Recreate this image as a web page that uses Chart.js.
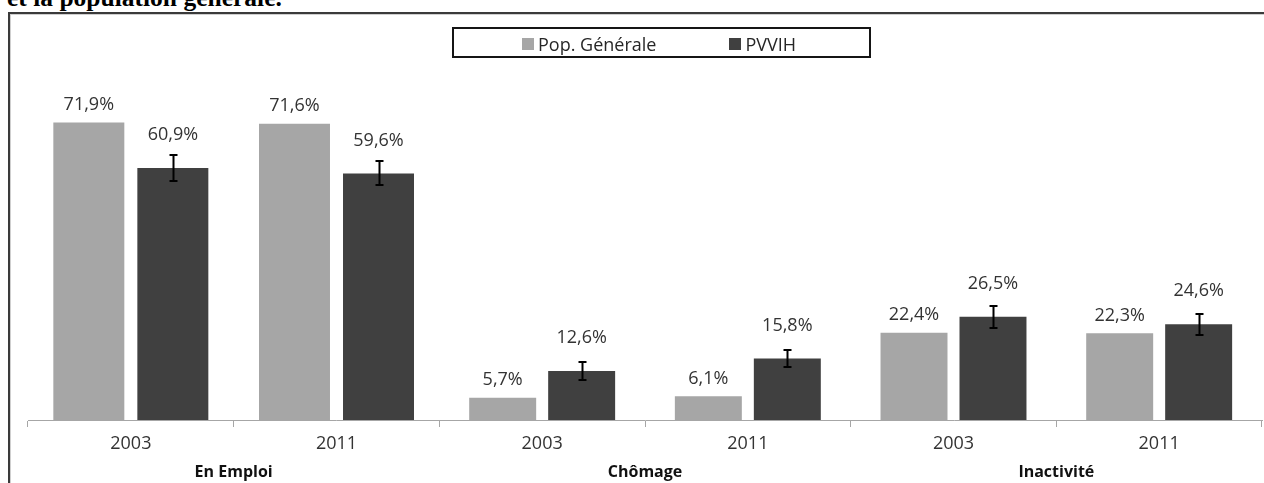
<!DOCTYPE html>
<html lang="fr">
<head>
<meta charset="utf-8">
<title>Emploi, chômage et inactivité : PVVIH et population générale</title>
<script src="https://cdn.jsdelivr.net/npm/chart.js@4/dist/chart.umd.min.js"></script>
<style>
  html, body { margin: 0; padding: 0; background: #fff; width: 1264px; height: 483px; overflow: hidden; }
  #title { position: absolute; left: 7px; top: -15px; font: bold 25.5px/25px "Liberation Serif", serif; color: #000; white-space: nowrap; }
  #frame { position: absolute; left: 8px; top: 12px; width: 1400px; height: 600px;
           border-top: 2px solid #3a3a3a; border-left: 2px solid #3a3a3a; box-shadow: inset 1px 1px 0 #cfcfcf; }
  #chartBox { position: absolute; left: 10px; top: 14px; width: 1300px; height: 469px; }
  #legend { position: absolute; left: 452px; top: 27px; width: 419px; height: 31px; border: 2px solid #151515;
            display: flex; align-items: center; padding-left: 68px; padding-top: 2px; box-sizing: border-box; }
  #legend .item { display: flex; align-items: center; font: 18px "Open Sans", sans-serif; color: #262626; white-space: nowrap; }
  #legend .item i { display: inline-block; width: 12px; height: 12px; margin-right: 4px; }
  #legend .item + .item { margin-left: 73px; }
</style>
</head>
<body>
<div id="title">et la population générale.</div>
<div id="frame"></div>
<div id="chartBox"><canvas id="chart"></canvas></div>
<div id="legend"></div>

<script>
// categories (year) and their groups
const categories = ['2003', '2011', '2003', '2011', '2003', '2011'];
const groups = ['En Emploi', 'Chômage', 'Inactivité'];

// series
const seriesNames = ['Pop. Générale', 'PVVIH'];
const popGenerale = [71.9, 71.6, 5.7, 6.1, 22.4, 22.3];
const pvvih = [60.9, 59.6, 12.6, 15.8, 26.5, 24.6];
const pvvihError = [3.2, 2.9, 2.2, 2.25, 2.85, 2.7];

const colors = ['#a6a6a6', '#404040'];

Chart.defaults.font.family = '"Open Sans", sans-serif';

// "En Emploi" is drawn on its own value scale (wider bars, other scale in the original)
function pick(values, emploi) {
    return values.map((v, i) => ((Math.floor(i / 2) === 0) === emploi ? v : null));
}

function makeDataset(k, values, emploi) {
    return {
        label: seriesNames[k],
        data: pick(values, emploi),
        backgroundColor: colors[k],
        borderWidth: 0,
        xAxisID: 'x',
        yAxisID: emploi ? 'y' : 'y2',
        skipNull: true,
        categoryPercentage: emploi ? 0.817 : 0.768,
        barPercentage: emploi ? 0.845 : 0.848
    };
}

// legend (html, boxed like the original)
const legendEl = document.getElementById('legend');
seriesNames.forEach((name, k) => {
    const item = document.createElement('span');
    item.className = 'item';
    item.innerHTML = `<i style="background:${colors[k]}"></i>${name}`;
    legendEl.appendChild(item);
});

// error bars + value labels
const barExtras = {
    id: 'barExtras',
    afterDatasetsDraw(chart) {
        const ctx = chart.ctx;
        chart.data.datasets.forEach((ds, di) => {
            const meta = chart.getDatasetMeta(di);
            const yScale = chart.scales[ds.yAxisID];
            meta.data.forEach((bar, i) => {
                const v = ds.data[i];
                if (v === null) return;
                let labelY = bar.y - 17.5;
                if (ds.label === seriesNames[1]) {
                    const e = pvvihError[i];
                    const x = Math.round(bar.x) + 0.5;
                    const top = Math.round(yScale.getPixelForValue(v + e));
                    const bot = Math.round(yScale.getPixelForValue(v - e));
                    ctx.save();
                    ctx.strokeStyle = '#000';
                    ctx.lineWidth = 2;
                    ctx.beginPath();
                    ctx.moveTo(x, top); ctx.lineTo(x, bot);
                    ctx.moveTo(x - 4, top); ctx.lineTo(x + 4, top);
                    ctx.moveTo(x - 4, bot); ctx.lineTo(x + 4, bot);
                    ctx.stroke();
                    ctx.restore();
                    labelY = bar.y - 33;
                }
                ctx.save();
                ctx.font = '18px "Open Sans", sans-serif';
                ctx.fillStyle = '#333';
                ctx.textAlign = 'center';
                ctx.textBaseline = 'middle';
                ctx.fillText(v.toFixed(1).replace('.', ',') + '%', bar.x, labelY);
                ctx.restore();
            });
        });
    }
};

const ctx = document.getElementById('chart').getContext('2d');
const chart = new Chart(ctx, {
    type: 'bar',
    data: {
        labels: categories,
        datasets: [
            makeDataset(0, popGenerale, true),
            makeDataset(1, pvvih, true),
            makeDataset(0, popGenerale, false),
            makeDataset(1, pvvih, false)
        ]
    },
    options: {
        responsive: true,
        maintainAspectRatio: false,
        animation: false,
        layout: { padding: { top: 75, left: 18, right: 48, bottom: 0 } },
        plugins: {
            legend: { display: false },
            tooltip: { enabled: false }
        },
        scales: {
            x: {
                type: 'category',
                position: 'bottom',
                grid: { drawOnChartArea: false, drawTicks: true, tickLength: 7, color: '#a6a6a6', offset: true },
                border: { display: true, color: '#a6a6a6', width: 1 },
                ticks: { font: { size: 18 }, color: '#333', padding: 6, maxRotation: 0, autoSkip: false },
                afterFit(scale) { scale.height = 35; }
            },
            xGroup: {
                type: 'category',
                position: 'bottom',
                labels: groups,
                grid: { display: false },
                border: { display: false },
                ticks: { font: { size: 16, weight: 'bold' }, color: '#111', padding: 0, maxRotation: 0 },
                afterFit(scale) { scale.height = 28; }
            },
            y: { display: false, min: 0, max: 80 },
            y2: { display: false, position: 'left', min: 0, max: 85 }
        }
    },
    plugins: [barExtras]
});
</script>
</body>
</html>
